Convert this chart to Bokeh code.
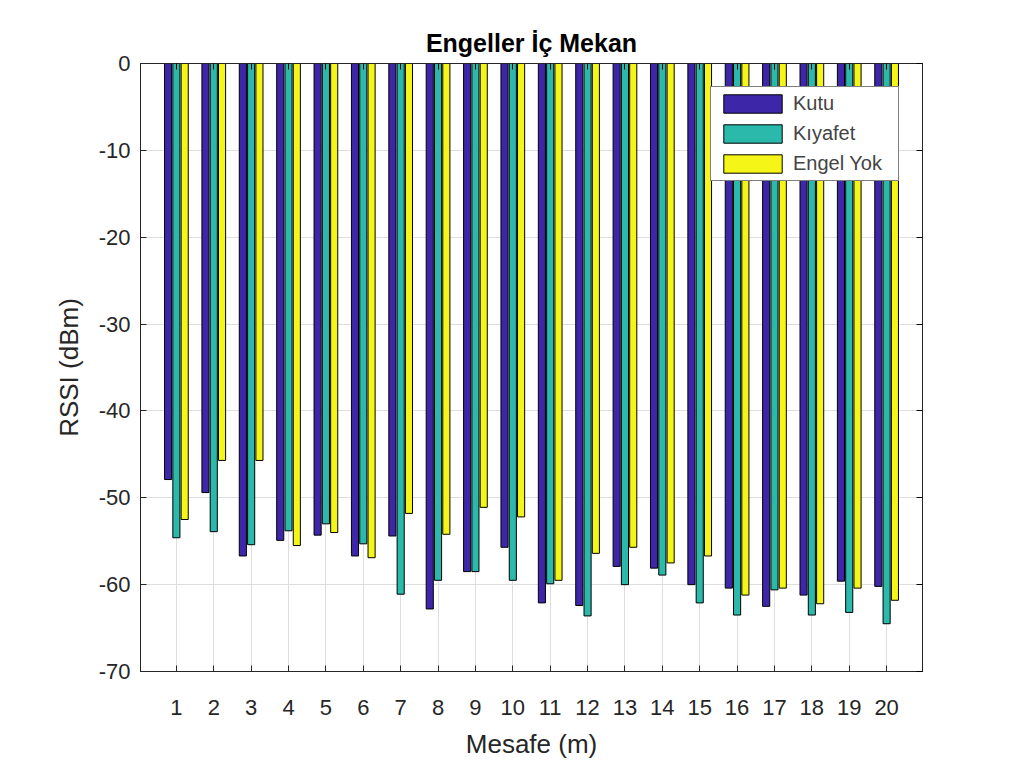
from bokeh.plotting import figure
from bokeh.models import ColumnDataSource, FixedTicker, LinearAxis, Range1d, Legend, LegendItem
from bokeh.transform import dodge
from bokeh.embed import file_html
from bokeh.resources import INLINE

distances = list(range(1, 21))
tick_labels = [str(d) for d in distances]
kutu = [-47.9, -49.4, -56.7, -54.9, -54.3, -56.7, -54.4, -62.8, -58.5, -55.7,
        -62.1, -62.4, -57.9, -58.1, -60.0, -60.4, -62.5, -61.2, -59.6, -60.2]
kiyafet = [-54.6, -53.9, -55.4, -53.8, -53.0, -55.3, -61.1, -59.5, -58.5, -59.5,
           -59.9, -63.6, -60.0, -58.9, -62.1, -63.5, -60.6, -63.5, -63.2, -64.5]
engel_yok = [-52.5, -45.7, -45.7, -55.5, -54.0, -56.9, -51.8, -54.2, -51.1, -52.2,
             -59.5, -56.4, -55.7, -57.5, -56.7, -61.2, -60.4, -62.2, -60.4, -61.8]
series_names = ["Kutu", "Kıyafet", "Engel Yok"]
y_ticks = [0, -10, -20, -30, -40, -50, -60, -70]
y_tick_labels = ["0", "-10", "-20", "-30", "-40", "-50", "-60", "-70"]

FONT = "Liberation Sans"
colors = ["#3E26A8", "#2AB9AA", "#F5F517"]

src = ColumnDataSource(dict(x=distances, kutu=kutu, kiyafet=kiyafet, engel=engel_yok))

p = figure(width=998, height=761, output_backend="svg", toolbar_location=None,
           x_range=Range1d(0.04, 20.96), y_range=Range1d(-70, 0),
           min_border_left=140, min_border_right=76, min_border_top=63, min_border_bottom=82,
           title="Engeller İç Mekan")
p.title.align = "center"
p.title.text_font = FONT
p.title.text_font_size = "25px"
p.title.text_font_style = "bold"
p.title.text_color = "#000000"
p.title.standoff = 13

offsets = [-0.222, 0.0, 0.222]
cols = ["kutu", "kiyafet", "engel"]
renderers = []
for off, col, c in zip(offsets, cols, colors):
    r = p.vbar(x=dodge("x", off, range=p.x_range), top=col, bottom=0, width=0.19,
               source=src, fill_color=c, line_color="#000000", line_width=1)
    renderers.append(r)

legend = Legend(items=[LegendItem(label=n, renderers=[r]) for n, r in zip(series_names, renderers)],
                location=(570, 490), glyph_width=73, glyph_height=23, label_text_font=FONT,
                label_text_font_size="20px", spacing=7, padding=5, label_standoff=4,
                border_line_color="#000000", border_line_width=1, background_fill_alpha=1,
                margin=0, label_height=23, label_width=100)
p.add_layout(legend, "center")

for ax in [p.xaxis[0], p.yaxis[0]]:
    ax.major_label_text_font = FONT
    ax.major_label_text_font_size = "22px"
    ax.major_label_text_color = "#262626"
    ax.axis_label_text_font = FONT
    ax.axis_label_text_font_size = "26px"
    ax.axis_label_text_font_style = "normal"
    ax.axis_label_text_color = "#262626"
    ax.axis_line_color = "#262626"
    ax.major_tick_in = 6
    ax.major_tick_out = 0
    ax.minor_tick_in = 0
    ax.minor_tick_out = 0
    ax.major_tick_line_color = "#262626"

p.xaxis.ticker = FixedTicker(ticks=distances)
p.xaxis.major_label_overrides = {d: t for d, t in zip(distances, tick_labels)}
p.xaxis.axis_label = "Mesafe (m)"
p.xaxis.major_label_standoff = 28
p.xaxis.axis_label_standoff = 11
p.yaxis.ticker = FixedTicker(ticks=y_ticks)
p.yaxis.major_label_overrides = {v: t for v, t in zip(y_ticks, y_tick_labels)}
p.yaxis.axis_label = "RSSI (dBm)"
p.yaxis.major_label_standoff = 10
p.yaxis.axis_label_standoff = 12

top_ax = LinearAxis(ticker=FixedTicker(ticks=distances), major_label_text_alpha=0,
                    major_label_text_font_size="1px", major_tick_in=6, major_tick_out=0,
                    minor_tick_in=0, minor_tick_out=0, axis_line_color="#262626")
right_ax = LinearAxis(ticker=FixedTicker(ticks=y_ticks), major_label_text_alpha=0,
                      major_label_text_font_size="1px", major_tick_in=6, major_tick_out=0,
                      minor_tick_in=0, minor_tick_out=0, axis_line_color="#262626")
p.add_layout(top_ax, "above")
p.add_layout(right_ax, "right")

p.xgrid.ticker = FixedTicker(ticks=distances)
p.ygrid.ticker = FixedTicker(ticks=y_ticks)
p.grid.grid_line_color = "#dedede"
p.grid.grid_line_width = 1
p.outline_line_color = "#262626"
p.background_fill_color = "white"
p.border_fill_color = "white"

open("out.html", "w").write(file_html(p, INLINE))
